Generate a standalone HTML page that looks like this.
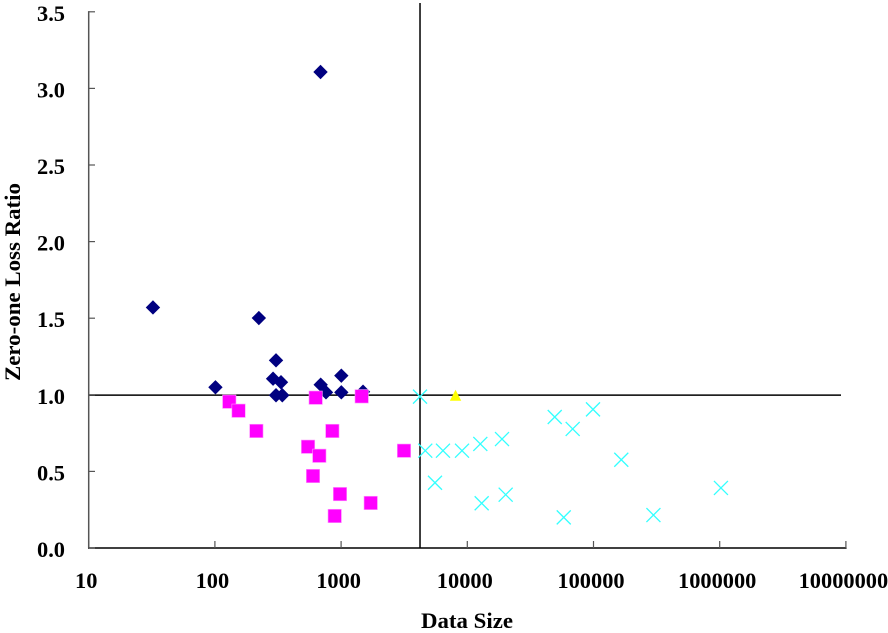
<!DOCTYPE html>
<html>
<head>
<meta charset="utf-8">
<style>
html,body{margin:0;padding:0;background:#fff;}
svg{display:block;}
text{font-family:"Liberation Serif",serif;font-weight:bold;fill:#000;}
</style>
</head>
<body>
<svg id="chart" width="888" height="633" viewBox="0 0 888 633" xmlns="http://www.w3.org/2000/svg">
  <text transform="translate(20,381) rotate(-90)" font-size="22" textLength="198" lengthAdjust="spacingAndGlyphs">Zero-one Loss Ratio</text>
  <text x="421" y="628" font-size="22" textLength="92" lengthAdjust="spacingAndGlyphs">Data Size</text>
</svg>
<script>
const xTickValues = [10, 100, 1000, 10000, 100000, 1000000, 10000000];
const yTickLabels = ['0.0', '0.5', '1.0', '1.5', '2.0', '2.5', '3.0', '3.5'];

const navySizes = [32.3, 101, 223, 305, 289, 334, 305, 342, 689, 759, 1004, 1004, 1492, 687];
const navyRatios = [1.57, 1.049, 1.501, 1.225, 1.105, 1.082, 0.997, 0.997, 1.066, 1.016, 1.125, 1.016, 1.02, 3.107];

const magentaSizes = [130, 154, 213, 629, 852, 1456, 547, 672, 599, 980, 1717, 890, 3150];
const magentaRatios = [0.955, 0.896, 0.764, 0.981, 0.764, 0.99, 0.661, 0.602, 0.47, 0.352, 0.294, 0.209, 0.635];

const cyanSizes = [4220, 4645, 6415, 9080, 12680, 18840, 5546, 13000, 20140, 49300, 68400, 99100, 166000, 58100, 298500, 1023000];
const cyanRatios = [0.988, 0.635, 0.635, 0.635, 0.679, 0.711, 0.426, 0.292, 0.348, 0.855, 0.777, 0.905, 0.576, 0.2, 0.215, 0.392];

const yellowSizes = [8070];
const yellowRatios = [1.0];

const referenceSize = [4220];
const referenceRatio = [0.998];

const NS = 'http://www.w3.org/2000/svg';
const svg = document.getElementById('chart');
const xAt = function (v) { return 88.7 + (Math.log10(v) - 1) * 126.2; };
const yAt = function (v) { return 548 - v * 153.2; };

function make(tag, props) {
  const el = document.createElementNS(NS, tag);
  for (const k in props) el.setAttribute(k, props[k]);
  svg.appendChild(el);
  return el;
}

// reference lines
const vLine = make('line', { x1: xAt(referenceSize[0]), x2: xAt(referenceSize[0]), y1: 3, y2: 548, stroke: '#000', 'stroke-width': 1.5 });


const hLine = make('line', { x1: 88.7, x2: 841, y1: yAt(referenceRatio[0]), y2: yAt(referenceRatio[0]), stroke: '#000', 'stroke-width': 1.5 });



// axes
const yAxis = make('line', { x1: 88.7, x2: 88.7, y1: yAt(3.5) - 0.7, y2: 548, stroke: '#555', 'stroke-width': 1.5 });


const xAxis = make('line', { x1: 88, x2: xAt(10000000) + 0.7, y1: 548, y2: 548, stroke: '#000', 'stroke-width': 1.5 });



yTickLabels.forEach(function (label) {
  const y = yAt(parseFloat(label));
  const tick = make('line', { x1: 88.7, x2: 95, y1: y, y2: y, stroke: '#555', 'stroke-width': 1.2 });
  
  
  const t = make('text', { x: 65, y: y + 9, 'font-size': 22.4, 'text-anchor': 'end' });
  t.textContent = label;
  
  
});

xTickValues.forEach(function (value) {
  const x = xAt(value);
  const tick = make('line', { x1: x, x2: x, y1: 541, y2: 548, stroke: '#555', 'stroke-width': 1.2 });
  
  
  const t = make('text', { x: x - 2.5, y: 588, 'font-size': 22.4, 'text-anchor': 'middle' });
  t.textContent = String(value);
  
  
});

// series
navySizes.forEach(function (size, i) {
  const x = xAt(size), y = yAt(navyRatios[i]);
  const r = 7.2;
  const m = make('polygon', { points: [x, y - r, x + r, y, x, y + r, x - r, y].join(' '), fill: '#000080' });
  
  
});

magentaSizes.forEach(function (size, i) {
  const x = xAt(size), y = yAt(magentaRatios[i]);
  const m = make('rect', { x: x - 6.7, y: y - 6.7, width: 13.4, height: 13.4, fill: '#ff00ff', stroke: '#ff99ff', 'stroke-width': 0.6 });
  
  
});

cyanSizes.forEach(function (size, i) {
  const x = xAt(size), y = yAt(cyanRatios[i]);
  const r = 7;
  const m = make('path', { d: 'M' + (x - r) + ' ' + (y - r) + 'L' + (x + r) + ' ' + (y + r) + 'M' + (x - r) + ' ' + (y + r) + 'L' + (x + r) + ' ' + (y - r), fill: 'none', stroke: '#33ffff', 'stroke-width': 1.3 });
  
  
});

yellowSizes.forEach(function (size, i) {
  const x = xAt(size), y = yAt(yellowRatios[i]);
  const m = make('polygon', { points: [x, y - 5, x + 5.7, y + 6, x - 5.7, y + 6].join(' '), fill: '#ffff00' });
  
  
});
</script>
</body>
</html>
